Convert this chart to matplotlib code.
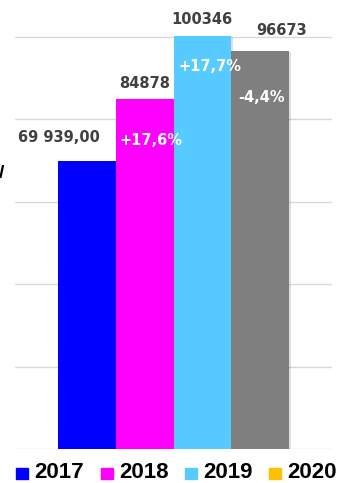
import matplotlib
matplotlib.use("Agg")
import matplotlib.pyplot as plt
from matplotlib.patches import Rectangle
import matplotlib.patheffects as pe

plt.rcParams["font.family"] = ["Liberation Sans", "DejaVu Sans"]

# data
years = ["2017", "2018", "2019", "2020"]
values = [69939, 84878, 100346, 96673]
value_labels = ["69 939,00", "84878", "100346", "96673"]
pct_labels = [None, "+17,6%", "+17,7%", "-4,4%"]
bar_colors = ["#0000FF", "#FF00FF", "#57CBFF", "#7F7F7F"]
legend_colors = ["#0000FF", "#FF00FF", "#57CBFF", "#FFC000"]
yticks = [0, 20000, 40000, 60000, 80000, 100000]

W, H = 339, 483
fig = plt.figure(figsize=(W / 100, H / 100), dpi=100)
ax = fig.add_axes([15 / W, 34 / H, 317 / W, 449 / H])

x = list(range(len(values)))
bars = ax.bar(x, values, width=1.0, color=bar_colors, zorder=3)
for b in bars:
    b.set_path_effects([pe.SimplePatchShadow(offset=(1.5, -1), alpha=0.15), pe.Normal()])

ax.set_xlim(-1.245, 4.245)
ax.set_ylim(0, 109000)
ax.set_yticks(yticks)
ax.grid(axis="y", color="#d9d9d9", lw=1, zorder=0)
ax.tick_params(left=False, bottom=False, labelleft=False, labelbottom=False)
for s in ax.spines.values():
    s.set_visible(False)

lbl_font = "DejaVu Sans"

# value labels above bars (offsets in px)
val_dx = [-28, 0, 0, 21]
val_dy = [23, 16, 16, 20]
for i, v in enumerate(values):
    ax.annotate(value_labels[i], (x[i], v), xytext=(val_dx[i], val_dy[i]),
                textcoords="offset pixels", ha="center", va="center",
                fontsize=10.5, fontweight="bold", color="#404040", family=lbl_font)

# growth labels inside bars
pct_dx = [0, 6, 8, 1]
pct_dy = [0, -41, -31, -47]
for i, p in enumerate(pct_labels):
    if p is None:
        continue
    ax.annotate(p, (x[i], values[i]), xytext=(pct_dx[i], pct_dy[i]),
                textcoords="offset pixels", ha="center", va="center",
                fontsize=10.5, fontweight="bold", color="white", family=lbl_font,
                zorder=5)

# legend, drawn by hand
sq_x = [16, 101, 185, 269]
for i, yr in enumerate(years):
    fig.add_artist(Rectangle((sq_x[i] / W, (H - 479) / H), 12 / W, 11 / H,
                             transform=fig.transFigure, color=legend_colors[i]))
    fig.text((sq_x[i] + 18) / W, 0.5 / H, yr, ha="left", va="bottom",
             fontsize=16, fontweight="bold", color="black")

# cropped stroke at left edge
fig.text(-1 / W, (H - 174) / H, "/", ha="left", va="center",
         fontsize=14, fontweight="bold", color="black")

fig.savefig("out.png", dpi=100)
